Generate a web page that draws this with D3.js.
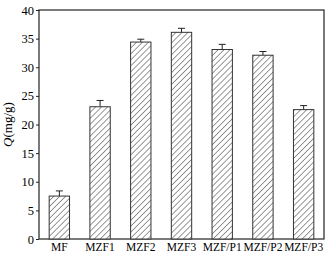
<!DOCTYPE html>
<html>
<head>
<meta charset="utf-8">
<script src="https://cdn.jsdelivr.net/npm/d3@7"></script>
<style>
  body { margin: 0; background: #fff; }
  svg { display: block; font-family: "Liberation Serif", "Times New Roman", serif; }
</style>
</head>
<body>
<div id="chart"></div>
<script>
const samples = ["MF", "MZF1", "MZF2", "MZF3", "MZF/P1", "MZF/P2", "MZF/P3"]
const capacity = [7.5, 23.1, 34.4, 36.1, 33.1, 32.1, 22.6]
const errors = [0.9, 1.1, 0.5, 0.7, 0.9, 0.65, 0.7]
const yTicks = [0, 5, 10, 15, 20, 25, 30, 35, 40]

const width = 330, height = 257
const margin = { top: 10, right: 6, bottom: 18, left: 39 }

const svg = d3.select("#chart").append("svg")
  .attr("width", width)
  .attr("height", height)

// hatch fill for the bars
svg.append("defs").append("pattern")
  .attr("id", "hatch")
  .attr("patternUnits", "userSpaceOnUse")
  .attr("width", 4.2)
  .attr("height", 4.2)
  .attr("patternTransform", "rotate(45)")
  .call(p => {
    p.append("rect").attr("width", 4.2).attr("height", 4.2).attr("fill", "#fff")
    p.append("line")
      .attr("x1", 0).attr("y1", 0).attr("x2", 0).attr("y2", 4.2)
      .attr("stroke", "#333").attr("stroke-width", 1)
  })

const x = d3.scaleBand()
  .domain(samples)
  .range([margin.left, width - margin.right])
  .paddingInner(0.5)
  .paddingOuter(0.25)

const y = d3.scaleLinear()
  .domain([0, 40])
  .range([height - margin.bottom, margin.top])

// frame
svg.append("rect")
  .attr("x", margin.left)
  .attr("y", margin.top)
  .attr("width", width - margin.right - margin.left)
  .attr("height", height - margin.bottom - margin.top)
  .attr("fill", "none")
  .attr("stroke", "#222")
  .attr("stroke-width", 1.2)

// y axis
const yAxis = svg.append("g")
  .attr("transform", `translate(${margin.left},0)`)
  .call(d3.axisLeft(y).tickValues(yTicks).tickSize(3).tickPadding(2))
yAxis.select(".domain").remove()
yAxis.selectAll("line").attr("stroke", "#222")
yAxis.selectAll("text")
  .attr("font-family", "Liberation Serif")
  .attr("font-size", 12.5)
  .attr("fill", "#000")

// x axis labels
const xAxis = svg.append("g")
  .attr("transform", `translate(0,${height - margin.bottom})`)
  .call(d3.axisBottom(x).tickSize(0).tickPadding(4))
xAxis.select(".domain").remove()
xAxis.selectAll("text")
  .attr("font-family", "Liberation Serif")
  .attr("font-size", 11.5)
  .attr("fill", "#000")

// error bars (upper half)
const err = svg.append("g").attr("stroke", "#222").attr("stroke-width", 1)
samples.forEach((s, i) => {
  const cx = x(s) + x.bandwidth() / 2
  err.append("line")
    .attr("x1", cx).attr("x2", cx)
    .attr("y1", y(capacity[i])).attr("y2", y(capacity[i] + errors[i]))
  err.append("line")
    .attr("x1", cx - 3.5).attr("x2", cx + 3.5)
    .attr("y1", y(capacity[i] + errors[i])).attr("y2", y(capacity[i] + errors[i]))
})

// bars
svg.append("g")
  .selectAll("rect")
  .data(samples)
  .join("rect")
  .attr("x", d => x(d))
  .attr("width", x.bandwidth())
  .attr("y", (d, i) => y(capacity[i]))
  .attr("height", (d, i) => y(0) - y(capacity[i]))
  .attr("fill", "url(#hatch)")
  .attr("stroke", "#333")
  .attr("stroke-width", 1)

// y label
const yl = svg.append("text")
  .attr("transform", `translate(12,${(y(0) + y(40)) / 2}) rotate(-90)`)
  .attr("text-anchor", "middle")
  .attr("font-size", 13)
  .attr("fill", "#000")
yl.append("tspan").attr("font-style", "italic").text("Q")
yl.append("tspan").text("(mg/g)")
</script>
</body>
</html>
